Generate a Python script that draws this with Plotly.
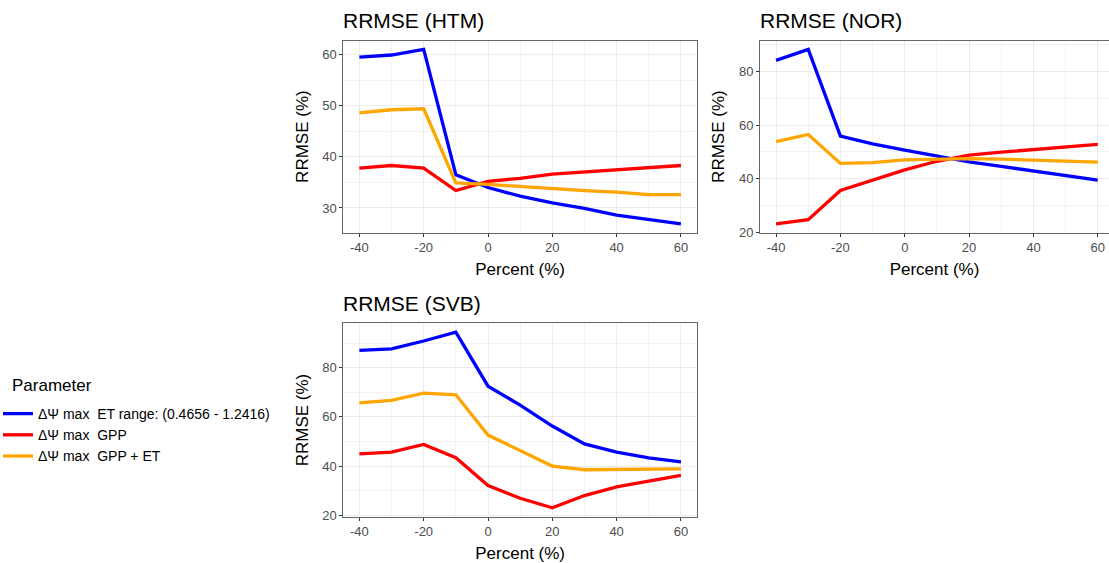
import plotly.graph_objects as go

# ---- data ----
x_pct = [-40, -30, -20, -10, 0, 10, 20, 30, 40, 50, 60]

series_names = [
    "ΔΨ max\u00a0 ET range: (0.4656 - 1.2416)",
    "ΔΨ max\u00a0 GPP",
    "ΔΨ max\u00a0 GPP + ET",
]
series_colors = ["#0000FF", "#FF0000", "#FFA500"]
legend_title = "Parameter"

htm_et = [59.5, 59.9, 61.0, 36.5, 34.0, 32.3, 31.0, 29.9, 28.6, 27.7, 26.9]
htm_gpp = [37.8, 38.3, 37.8, 33.4, 35.2, 35.8, 36.6, 37.0, 37.5, 37.9, 38.3]
htm_gppet = [48.6, 49.2, 49.4, 34.9, 34.6, 34.2, 33.7, 33.4, 33.1, 32.6, 32.6]

nor_et = [84.1, 88.2, 55.9, 53.0, 50.7, 48.5, 46.3, 44.6, 43.0, 41.2, 39.5]
nor_gpp = [23.2, 24.7, 35.6, 39.5, 43.3, 46.5, 48.8, 49.9, 50.9, 52.0, 52.8]
nor_gppet = [53.8, 56.5, 45.7, 46.0, 47.0, 47.3, 47.5, 47.3, 47.0, 46.7, 46.2]

svb_et = [87.1, 87.7, 90.9, 94.5, 72.5, 64.8, 56.3, 49.0, 45.7, 43.3, 41.7]
svb_gpp = [45.0, 45.7, 48.8, 43.4, 32.1, 26.9, 23.0, 28.0, 31.5, 33.8, 36.2]
svb_gppet = [65.7, 66.7, 69.7, 69.0, 52.6, 46.2, 40.0, 38.5, 38.6, 38.8, 38.9]

panel_titles = ["RRMSE (HTM)", "RRMSE (NOR)", "RRMSE (SVB)"]
x_major = [-40, -20, 0, 20, 40, 60]
x_minor = [-30, -10, 10, 30, 50]
htm_major = [30, 40, 50, 60]
htm_minor = [25, 35, 45, 55]
nor_major = [20, 40, 60, 80]
nor_minor = [30, 50, 70, 90]
svb_major = [20, 40, 60, 80]
svb_minor = [30, 50, 70, 90]

panels = [
    [htm_et, htm_gpp, htm_gppet],
    [nor_et, nor_gpp, nor_gppet],
    [svb_et, svb_gpp, svb_gppet],
]

W, H = 1109, 563
FONT = "Liberation Sans, Arial, sans-serif"

# pixel layout of panels: (left, right, top, bottom)
boxes = [(343.3, 697, 40.7, 232.5), (760, 1109, 40.7, 232.5), (343.3, 697, 323.3, 516.7)]
yranges = [[25.2, 62.7], [19.95, 91.45], [19.4, 98.1]]
xranges = [[-45, 65], [-45, 63.5], [-45, 65]]
ygrids = [(htm_major, htm_minor), (nor_major, nor_minor), (svb_major, svb_minor)]

fig = go.Figure()

for i, vals in enumerate(panels):
    xa = "x" if i == 0 else f"x{i+1}"
    ya = "y" if i == 0 else f"y{i+1}"
    for j, v in enumerate(vals):
        fig.add_trace(go.Scatter(
            x=x_pct, y=v, mode="lines", name=series_names[j],
            line=dict(color=series_colors[j], width=3.3),
            xaxis=xa, yaxis=ya, showlegend=(i == 0), legendgroup=str(j),
        ))

layout = dict(
    width=W, height=H,
    margin=dict(l=0, r=0, t=0, b=0, autoexpand=False),
    paper_bgcolor="white", plot_bgcolor="white",
    font=dict(family=FONT, color="black"),
    showlegend=True,
    legend=dict(
        x=-2 / W, y=1 - 398 / H, xanchor="left", yanchor="top",
        font=dict(size=14, family=FONT, color="black"),
        bgcolor="rgba(0,0,0,0)", tracegroupgap=0,
    ),
    annotations=[dict(
        text=legend_title, xref="paper", yref="paper",
        x=10 / W, y=1 - 385 / H, xanchor="left", yanchor="middle",
        showarrow=False, font=dict(size=17, family=FONT, color="black"),
    )],
)

for i in range(3):
    l, r, t, b = boxes[i]
    sfx = "" if i == 0 else str(i + 1)
    ymaj, ymin = ygrids[i]
    layout["xaxis" + sfx] = dict(
        domain=[l / W, r / W], anchor="y" + sfx, range=xranges[i], automargin=False,
        tickmode="array", tickvals=x_major, ticktext=[str(v) for v in x_major],
        ticks="outside", ticklen=3, tickcolor="#333333", tickwidth=1,
        tickfont=dict(size=13, color="#4D4D4D", family=FONT),
        showline=True, linecolor="#666666", linewidth=1, mirror=True,
        showgrid=True, gridcolor="#EBEBEB", gridwidth=1, zeroline=False,
        minor=dict(tickmode="array", tickvals=x_minor, showgrid=True,
                   gridcolor="#F3F3F3", gridwidth=0.6, ticks=""),
        title=dict(text="Percent (%)", font=dict(size=17, family=FONT, color="black"), standoff=9),
    )
    layout["yaxis" + sfx] = dict(
        domain=[1 - b / H, 1 - t / H], anchor="x" + sfx, range=yranges[i], automargin=False,
        tickmode="array", tickvals=ymaj, ticktext=[str(v) for v in ymaj],
        ticks="outside", ticklen=3, tickcolor="#333333", tickwidth=1,
        tickfont=dict(size=13, color="#4D4D4D", family=FONT),
        showline=True, linecolor="#666666", linewidth=1, mirror=(i != 1),
        showgrid=True, gridcolor="#EBEBEB", gridwidth=1, zeroline=False,
        minor=dict(tickmode="array", tickvals=ymin, showgrid=True,
                   gridcolor="#F3F3F3", gridwidth=0.6, ticks=""),
        title=dict(text="RRMSE (%)", font=dict(size=17, family=FONT, color="black"), standoff=9),
    )
    layout["annotations"].append(dict(
        text=panel_titles[i], xref="paper", yref="paper",
        x=(l - 2) / W, y=1 - (t - 20) / H, xanchor="left", yanchor="middle",
        showarrow=False, font=dict(size=21, family=FONT, color="black"),
    ))

fig.update_layout(**layout)
fig.write_html("out.html", config={"displayModeBar": False},
               post_script="document.body.style.margin='0';")
